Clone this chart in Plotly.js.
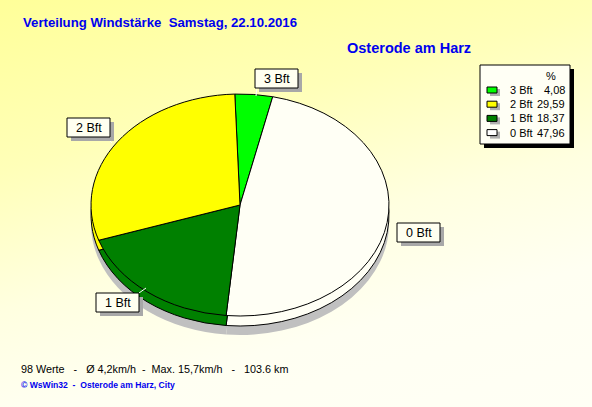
<!DOCTYPE html>
<html><head><meta charset="utf-8">
<script src="https://cdn.plot.ly/plotly-3.0.1.min.js"></script>
<style>
html,body{margin:0;padding:0;}
#chart{width:592px;height:407px;background:linear-gradient(165deg,#ffff99 0%,#ffffb8 30%,#ffffe0 55%,#fffff2 75%,#fffff5 100%);}
</style></head><body>
<div id="chart"></div>
<script>
// ---- data ----
const categories = ['3 Bft', '0 Bft', '1 Bft', '2 Bft'];
const percent = [4.08, 47.96, 18.37, 29.59];
const sliceColors = ['#00ff00', '#fffff5', '#008000', '#ffff00'];
const legendLabels = ['3 Bft', '2 Bft', '1 Bft', '0 Bft'];
const legendValues = ['4,08', '29,59', '18,37', '47,96'];
const legendColors = ['#00ff00', '#ffff00', '#008000', '#ffffff'];
const titleText = 'Verteilung Windstärke  Samstag, 22.10.2016';
const subtitleText = 'Osterode am Harz';
const statsText = '98 Werte   -   Ø 4,2km/h  -  Max. 15,7km/h   -   103.6 km';
const creditText = '© WsWin32  -  Osterode am Harz, City';

// ---- layout helpers ----
const W = 592, H = 407;
const X = p => p / W, Y = p => 1 - p / H;
const CX = 240, CY = 205, R = 149, RY = 111;
const dom = {x: [X(CX - R), X(CX + R)], y: [Y(CY + R), Y(CY - R)]};

function pie(colors, lineW) {
  return {
    type: 'pie', labels: categories, values: percent, sort: false,
    direction: 'clockwise', rotation: -2, textinfo: 'none', hoverinfo: 'skip',
    showlegend: false, domain: dom,
    marker: {colors: colors, line: {color: '#000000', width: lineW}}
  };
}
const data = [
  pie(categories.map(() => '#c0c0c0'), 0),
  pie(sliceColors, 1),
  pie(sliceColors, 1)
];

const shapes = [], annotations = [];
function rect(x0, y0, x1, y1, fill, lineColor) {
  shapes.push({type: 'rect', xref: 'paper', yref: 'paper', x0: X(x0), x1: X(x1), y0: Y(y1), y1: Y(y0),
    fillcolor: fill, line: {color: lineColor || fill, width: lineColor ? 1 : 0}, layer: 'above'});
}
function text(t, x, y, opts) {
  annotations.push(Object.assign({text: t, xref: 'paper', yref: 'paper', x: X(x), y: Y(y),
    showarrow: false, xanchor: 'left', yanchor: 'middle',
    font: {family: 'Arial, Liberation Sans', size: 12, color: '#000000'}}, opts || {}));
}
function line(x0, y0, x1, y1, c) {
  shapes.push({type: 'line', xref: 'paper', yref: 'paper', x0: X(x0), x1: X(x1), y0: Y(y0), y1: Y(y1),
    line: {color: c, width: 1}, layer: 'above'});
}

// slice labels (boxes with shadow)
const labelBoxes = [
  ['3 Bft', 255, 69, 298, 88, [257, 88, 256, 96]],
  ['2 Bft', 67, 118, 110, 137, [106, 137, 112, 143]],
  ['0 Bft', 397, 223, 440, 242, null],
  ['1 Bft', 96, 293, 139, 312, [139, 293, 146, 288]]
];
labelBoxes.forEach(b => {
  if (b[5]) line(b[5][0], b[5][1], b[5][2], b[5][3], '#ffffff');
  rect(b[1] + 4, b[2] + 4, b[3] + 4, b[4] + 4, '#a8a8a8');
  rect(b[1], b[2], b[3], b[4], '#fffff0', '#000000');
  text(b[0], (b[1] + b[3]) / 2, (b[2] + b[4]) / 2 + 0.5, {xanchor: 'center', font: {family: 'Arial, Liberation Sans', size: 12.5, color: '#000'}});
});

// legend box
rect(484, 69, 574, 148, '#000000');
rect(480, 65, 570, 144, '#fffff5', '#000000');
text('%', 551, 76, {xanchor: 'center', font: {family: 'Arial, Liberation Sans', size: 11, color: '#000'}});
legendLabels.forEach((l, i) => {
  const y = 90 + i * 14.2;
  rect(490, y - 1, 500, y + 6, '#b0b0b0');
  rect(487, y - 3, 497, y + 3, legendColors[i], '#000000');
  text(l, 508, y, {font: {family: 'Arial, Liberation Sans', size: 11, color: '#000'}});
  text(legendValues[i], 567, y, {xanchor: 'right', font: {family: 'Arial, Liberation Sans', size: 11, color: '#000'}});
});

// titles
text(titleText, 21, 23, {font: {family: 'Arial, Liberation Sans', size: 13.2, color: '#0000ee', weight: 'bold'}});
text(subtitleText, 409, 48, {xanchor: 'center', font: {family: 'Arial, Liberation Sans', size: 14.5, color: '#0000ee', weight: 'bold'}});
text(statsText, 19, 369, {font: {family: 'Arial, Liberation Sans', size: 10.8, color: '#000000'}});
text(creditText, 19, 385, {font: {family: 'Arial, Liberation Sans', size: 8.6, color: '#0000ee', weight: 'bold'}});

const layout = {
  width: W, height: H, margin: {l: 0, r: 0, t: 0, b: 0},
  paper_bgcolor: 'rgba(0,0,0,0)', plot_bgcolor: 'rgba(0,0,0,0)',
  showlegend: false, shapes: shapes, annotations: annotations
};

Plotly.newPlot('chart', data, layout, {staticPlot: true, displayModeBar: false}).then(gd => {
  const s = RY / R;
  const offsets = [[0, 19], [0, 10], [0, 0]];
  const traces = gd.querySelectorAll('.pielayer > g.trace');
  traces.forEach((g, i) => {
    const o = offsets[i] || [0, 0];
    g.setAttribute('transform', `matrix(1 0 0 ${s} ${o[0]} ${CY * (1 - s) + o[1]})`);
    g.querySelectorAll('path').forEach(p => p.setAttribute('vector-effect', 'non-scaling-stroke'));
  });
});
</script>
</body></html>
